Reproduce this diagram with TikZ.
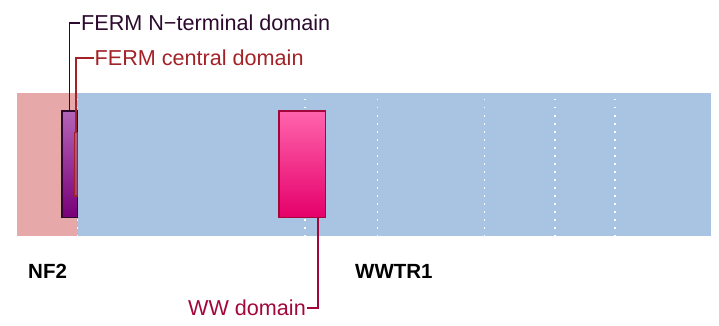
\documentclass[tikz,border=0pt]{standalone}
\usepackage{fontspec}
\setmainfont{Liberation Sans}
\usepackage{xcolor}
\usetikzlibrary{positioning}
\definecolor{nfbg}{HTML}{E6A8A8}
\definecolor{wwbg}{HTML}{A8C4E2}
\definecolor{fermtop}{HTML}{B365B8}
\definecolor{fermbot}{HTML}{780078}
\definecolor{fermline}{HTML}{2B0A2D}
\definecolor{centline}{HTML}{A32228}
\definecolor{wwtop}{HTML}{FF64AD}
\definecolor{wwbot}{HTML}{E5006A}
\definecolor{wwline}{HTML}{A3063A}

\begin{document}
\begin{tikzpicture}[x=1pt, y=-1pt, font=\fontsize{21.6}{24}\selectfont,
  dom/.style={draw, line width=1.6pt, inner sep=0pt, shade},
  lab/.style={anchor=west, inner xsep=1pt, inner ysep=0pt},
  gene/.style={anchor=base west, inner sep=0pt, font=\fontsize{20.5}{24}\selectfont\bfseries},
  hook/.style={line width=1.8pt},
  dots/.style={white, line width=1.5pt, dash pattern=on 1.5pt off 6.5pt, dash phase=2pt}]
  \useasboundingbox (0,0) rectangle (719,326);
  % protein backgrounds
  \fill[nfbg] (17,93) rectangle (77.5,236);
  \fill[wwbg] (77.5,93) rectangle (711,236);
  \foreach \gx in {77.5,305,377.5,484.5,555,615}
    \draw[dots] (\gx,93) -- (\gx,236);
  % domains
  \node[dom, draw=fermline, top color=fermtop, bottom color=fermbot,
    minimum width=15.6pt, minimum height=106.6pt] (fermN) at (69.5,164) {};
  \node[draw=centline, line width=1.3pt, fill=centline!55!nfbg, fill opacity=0.6,
    inner sep=0pt, minimum width=3pt, minimum height=63.5pt] (fermC) at (75.9,164.2) {};
  \node[dom, draw=wwline, top color=wwtop, bottom color=wwbot,
    minimum width=46.6pt, minimum height=106.2pt] (ww) at (302,164.2) {};
  % labels
  \node[lab, text=fermline] (ntermlab) at (80,22.7) {FERM N−terminal domain};
  \node[lab, text=centline] (centlab) at (93.5,57.7) {FERM central domain};
  \node[lab, anchor=east, text=wwline] (wwlab) at (307,307.7) {WW domain};
  \node[gene] (nf2) at (28,278) {NF2};
  \node[gene] (wwtr1) at (355,278) {WWTR1};
  \draw[hook, fermline] (ntermlab.west) -| (fermN.north);
  \draw[hook, centline] (centlab.west) -| (fermC.north);
  \draw[hook, wwline] (wwlab.east) -| ([xshift=16.3pt]ww.south);
\end{tikzpicture}
\end{document}
